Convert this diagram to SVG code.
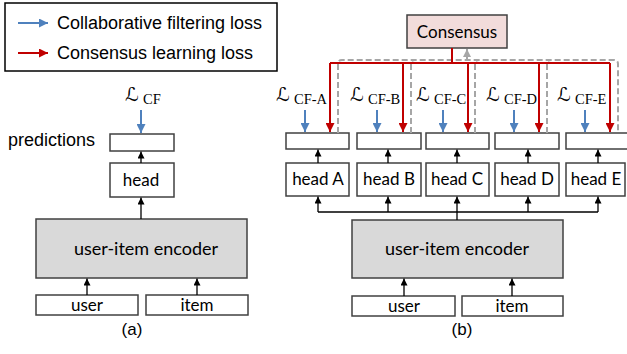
<svg xmlns="http://www.w3.org/2000/svg" width="627" height="354" viewBox="0 0 627 354">
<style>
.box{fill:#fff;stroke:#404040;stroke-width:1.5}
.enc{fill:#d9d9d9;stroke:#404040;stroke-width:1.5}
.cons{fill:#f2dcdb;stroke:#404040;stroke-width:1.5}
.lab{font-family:Lato,"Liberation Sans",sans-serif;font-size:17px;fill:#000;text-anchor:middle}
.encl{font-family:Lato,"Liberation Sans",sans-serif;font-size:18px;fill:#000;text-anchor:middle}
.ar{font-family:"Liberation Sans",Arial,sans-serif;font-size:18px;fill:#000}
.cap{font-family:"Liberation Sans",Arial,sans-serif;font-size:17px;fill:#000;text-anchor:middle}
.L{font-family:"DejaVu Sans",serif;font-size:19px;fill:#000}
.sub{font-family:"Liberation Serif","Times New Roman",serif;font-size:14.5px;fill:#000}
.blk{stroke:#000;stroke-width:1.3;fill:none;marker-end:url(#mb)}
.blu{stroke:#4f81bd;stroke-width:2;fill:none;marker-end:url(#mblue)}
.red{stroke:#c00000;stroke-width:2;fill:none}
.redA{stroke:#c00000;stroke-width:2;fill:none;marker-end:url(#mred)}
.dash{stroke:#a6a6a6;stroke-width:2;fill:none;stroke-dasharray:6 3}
.gry{stroke:#a6a6a6;stroke-width:2;fill:none;marker-end:url(#mgray)}
</style>
<defs>
<marker id="mb" markerUnits="userSpaceOnUse" markerWidth="7" markerHeight="7" refX="7" refY="3.5" orient="auto"><path d="M0,0 L7,3.5 L0,7 z" fill="#000"/></marker>
<marker id="mblue" markerUnits="userSpaceOnUse" markerWidth="9" markerHeight="9" refX="9" refY="4.5" orient="auto"><path d="M0,0 L9,4.5 L0,9 z" fill="#4f81bd"/></marker>
<marker id="mred" markerUnits="userSpaceOnUse" markerWidth="9" markerHeight="9" refX="9" refY="4.5" orient="auto"><path d="M0,0 L9,4.5 L0,9 z" fill="#c00000"/></marker>
<marker id="mgray" markerUnits="userSpaceOnUse" markerWidth="8" markerHeight="8" refX="8" refY="4" orient="auto"><path d="M0,0 L8,4 L0,8 z" fill="#a6a6a6"/></marker>
</defs>

<g id="legend">
<rect x="5" y="3" width="272" height="68" fill="#fff" stroke="#000" stroke-width="1.5"/>
<line x1="18" y1="23" x2="48" y2="23" class="blu"/>
<text x="57" y="29" class="ar">Collaborative filtering loss</text>
<line x1="18" y1="53" x2="48" y2="53" class="redA"/>
<text x="57" y="59" class="ar">Consensus learning loss</text>
</g>

<!-- (a) -->
<g id="a-loss"><text x="125" y="101" class="L">ℒ</text><text x="143" y="104" class="sub">CF</text></g>
<text x="8" y="146" class="ar">predictions</text>
<g id="a-pred"><rect x="110" y="134" width="64" height="17" class="box"/></g>
<g id="a-head"><rect x="110" y="163" width="64" height="34" class="box"/><text x="141" y="186" class="lab">head</text></g>
<g id="a-encoder"><rect x="36" y="219" width="211" height="59" class="enc"/><text x="146" y="255" class="encl">user-item encoder</text></g>
<g id="a-user"><rect x="36" y="295" width="102" height="20" class="box"/><text x="87" y="311" class="lab">user</text></g>
<g id="a-item"><rect x="146" y="295" width="102" height="20" class="box"/><text x="197" y="311" class="lab">item</text></g>
<text x="132" y="335" class="cap">(a)</text>

<!-- (b) -->
<g id="b-consensus"><rect x="407" y="15" width="100" height="33" class="cons"/><text x="457" y="38" class="lab">Consensus</text></g>
<g id="b-loss-A"><text x="276" y="101" class="L">ℒ</text><text x="294" y="104" class="sub">CF-A</text></g>
<g id="b-loss-B"><text x="350" y="101" class="L">ℒ</text><text x="368" y="104" class="sub">CF-B</text></g>
<g id="b-loss-C"><text x="416" y="101" class="L">ℒ</text><text x="434" y="104" class="sub">CF-C</text></g>
<g id="b-loss-D"><text x="486" y="101" class="L">ℒ</text><text x="504" y="104" class="sub">CF-D</text></g>
<g id="b-loss-E"><text x="557" y="101" class="L">ℒ</text><text x="575" y="104" class="sub">CF-E</text></g>
<g id="b-pred-A"><rect x="286" y="133" width="63" height="16" class="box"/></g>
<g id="b-pred-B"><rect x="357" y="133" width="64" height="16" class="box"/></g>
<g id="b-pred-C"><rect x="426" y="133" width="63" height="16" class="box"/></g>
<g id="b-pred-D"><rect x="495" y="133" width="64" height="16" class="box"/></g>
<g id="b-pred-E"><rect x="566" y="133" width="64" height="16" class="box"/></g>
<g id="b-head-A"><rect x="286" y="163" width="63" height="33" class="box"/><text x="318" y="185" class="lab">head A</text></g>
<g id="b-head-B"><rect x="357" y="163" width="64" height="33" class="box"/><text x="389" y="185" class="lab">head B</text></g>
<g id="b-head-C"><rect x="426" y="163" width="63" height="33" class="box"/><text x="457" y="185" class="lab">head C</text></g>
<g id="b-head-D"><rect x="495" y="163" width="64" height="33" class="box"/><text x="527" y="185" class="lab">head D</text></g>
<g id="b-head-E"><rect x="566" y="163" width="59" height="33" class="box"/><text x="596" y="185" class="lab">head E</text></g>
<g id="b-encoder"><rect x="352" y="220" width="211" height="58" class="enc"/><text x="457" y="255" class="encl">user-item encoder</text></g>
<g id="b-user"><rect x="352" y="296" width="103" height="20" class="box"/><text x="404" y="312" class="lab">user</text></g>
<g id="b-item"><rect x="462" y="296" width="101" height="20" class="box"/><text x="512" y="312" class="lab">item</text></g>
<text x="462" y="335" class="cap">(b)</text>

<g id="connectors">
<!-- (a) -->
<line x1="141" y1="110" x2="141" y2="133" class="blu"/>
<line x1="141" y1="163" x2="141" y2="151.5" class="blk"/>
<line x1="141" y1="219" x2="141" y2="197.5" class="blk"/>
<line x1="87" y1="295" x2="87" y2="278.5" class="blk"/>
<line x1="197" y1="295" x2="197" y2="278.5" class="blk"/>
<!-- (b) blue losses -->
<line x1="305" y1="110" x2="305" y2="132" class="blu"/>
<line x1="377" y1="110" x2="377" y2="132" class="blu"/>
<line x1="443" y1="110" x2="443" y2="132" class="blu"/>
<line x1="514" y1="110" x2="514" y2="132" class="blu"/>
<line x1="585" y1="110" x2="585" y2="132" class="blu"/>
<!-- gray dashed gather -->
<path d="M338,133 V64 Q338,60 342,60 H614 Q618,60 618,64 V133" class="dash"/>
<path d="M411,133 V64 Q411,60 415,60" class="dash"/>
<path d="M475,133 V64 Q475,60 479,60" class="dash"/>
<path d="M547,133 V64 Q547,60 551,60" class="dash"/>
<line x1="467" y1="60" x2="467" y2="49" class="gry"/>
<!-- red consensus -->
<path d="M452,48 V63 M330,63 H610" class="red"/>
<line x1="330" y1="63" x2="330" y2="132" class="redA"/>
<line x1="403" y1="63" x2="403" y2="132" class="redA"/>
<line x1="468" y1="63" x2="468" y2="132" class="redA"/>
<line x1="539" y1="63" x2="539" y2="132" class="redA"/>
<line x1="610" y1="63" x2="610" y2="132" class="redA"/>
<!-- heads to preds -->
<line x1="318" y1="163" x2="318" y2="149.5" class="blk"/>
<line x1="388" y1="163" x2="388" y2="149.5" class="blk"/>
<line x1="457" y1="163" x2="457" y2="149.5" class="blk"/>
<line x1="528" y1="163" x2="528" y2="149.5" class="blk"/>
<line x1="598" y1="163" x2="598" y2="149.5" class="blk"/>
<!-- encoder tree -->
<path d="M318,212 H598" stroke="#000" stroke-width="1.3" fill="none"/>
<line x1="318" y1="212" x2="318" y2="196.5" class="blk"/>
<line x1="388" y1="212" x2="388" y2="196.5" class="blk"/>
<line x1="457" y1="220" x2="457" y2="196.5" class="blk"/>
<line x1="528" y1="212" x2="528" y2="196.5" class="blk"/>
<line x1="598" y1="212" x2="598" y2="196.5" class="blk"/>
<line x1="404" y1="296" x2="404" y2="278.5" class="blk"/>
<line x1="512" y1="296" x2="512" y2="278.5" class="blk"/>
</g>
</svg>
